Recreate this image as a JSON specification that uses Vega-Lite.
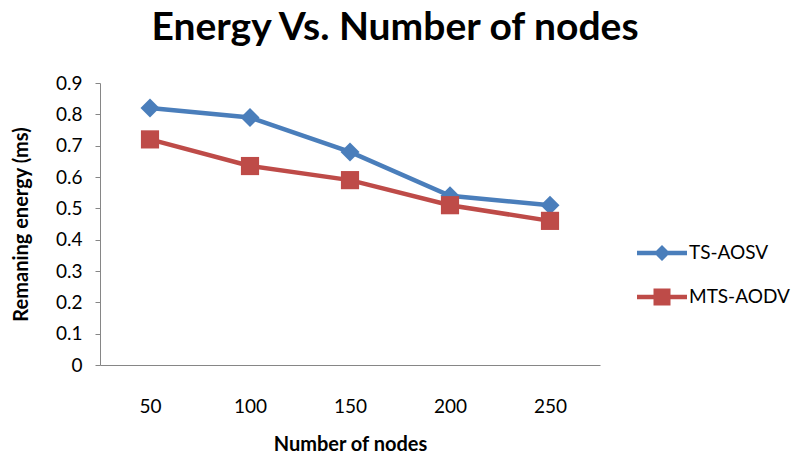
{
  "$schema": "https://vega.github.io/schema/vega-lite/v6.json",
  "autosize": "none",
  "width": 500,
  "height": 282,
  "padding": {"left": 100, "top": 83, "right": 198, "bottom": 91},
  "background": "white",
  "title": {
    "text": "Energy Vs. Number of nodes",
    "font": "Lato",
    "fontSize": 39,
    "fontWeight": "bold",
    "color": "#000000",
    "anchor": "middle",
    "dx": 45,
    "offset": 26
  },
  "data": {
    "values": [
      {"nodes": "50", "series": "TS-AOSV", "energy": 0.82},
      {"nodes": "100", "series": "TS-AOSV", "energy": 0.79},
      {"nodes": "150", "series": "TS-AOSV", "energy": 0.68},
      {"nodes": "200", "series": "TS-AOSV", "energy": 0.54},
      {"nodes": "250", "series": "TS-AOSV", "energy": 0.51},
      {"nodes": "50", "series": "MTS-AODV", "energy": 0.72},
      {"nodes": "100", "series": "MTS-AODV", "energy": 0.635},
      {"nodes": "150", "series": "MTS-AODV", "energy": 0.59},
      {"nodes": "200", "series": "MTS-AODV", "energy": 0.51},
      {"nodes": "250", "series": "MTS-AODV", "energy": 0.46}
    ]
  },
  "config": {
    "view": {"stroke": null},
    "axis": {
      "labelFont": "Lato",
      "titleFont": "Lato",
      "labelColor": "#000000",
      "titleColor": "#000000",
      "domainColor": "#868686",
      "tickColor": "#868686",
      "grid": false
    }
  },
  "encoding": {
    "x": {
      "field": "nodes",
      "type": "ordinal",
      "sort": ["50", "100", "150", "200", "250"],
      "scale": {"type": "point", "padding": 0.5},
      "axis": {
        "title": "Number of nodes",
        "labelAngle": 0,
        "labelFontSize": 19,
        "labelPadding": 32,
        "ticks": false,
        "titleFontSize": 20,
        "titleFontWeight": "bold",
        "titlePadding": 18
      }
    },
    "y": {
      "field": "energy",
      "type": "quantitative",
      "scale": {"domain": [0, 0.9]},
      "axis": {
        "title": "Remaning energy (ms)",
        "values": [0, 0.1, 0.2, 0.3, 0.4, 0.5, 0.6, 0.7, 0.8, 0.9],
        "format": ".1~f",
        "labelFontSize": 19,
        "labelPadding": 13,
        "tickSize": 5,
        "titleFontSize": 20,
        "titleFontWeight": "bold",
        "titlePadding": 24
      }
    },
    "color": {
      "field": "series",
      "type": "nominal",
      "scale": {"domain": ["TS-AOSV", "MTS-AODV"], "range": ["#4A7EBB", "#BE4B48"]},
      "legend": null
    }
  },
  "layer": [
    {
      "mark": {"type": "line", "strokeWidth": 4.5},
      "encoding": {
        "color": {
          "field": "series",
          "type": "nominal",
          "scale": {"domain": ["TS-AOSV", "MTS-AODV"], "range": ["#4A7EBB", "#BE4B48"]},
          "legend": {
            "title": null,
            "orient": "none",
            "legendX": 552,
            "legendY": 160,
            "padding": 0,
            "labelFont": "Lato",
            "labelFontSize": 19,
            "labelColor": "#000000",
            "labelOffset": 17,
            "rowPadding": 24,
            "symbolSize": 400,
            "symbolType": "M-2.5,-0.22L2.5,-0.22L2.5,0.22L-2.5,0.22Z",
            "encode": {
              "symbols": {
                "update": {
                  "shape": {"signal": "datum.value === 'TS-AOSV' ? 'M-2.5,-0.22L2.5,-0.22L2.5,0.22L-2.5,0.22Z M0,-0.8L0.8,0L0,0.8L-0.8,0Z' : 'M-2.5,-0.22L2.5,-0.22L2.5,0.22L-2.5,0.22Z M-0.85,-0.85L0.85,-0.85L0.85,0.85L-0.85,0.85Z'"},
                  "fill": {"signal": "datum.value === 'TS-AOSV' ? '#4A7EBB' : '#BE4B48'"},
                  "strokeWidth": {"value": 0},
                  "opacity": {"value": 1}
                }
              }
            }
          }
        }
      }
    },
    {
      "transform": [{"filter": "datum.series === 'TS-AOSV'"}],
      "mark": {"type": "point", "filled": true, "opacity": 1, "size": 360, "shape": "diamond"},
      "encoding": {}
    },
    {
      "transform": [{"filter": "datum.series === 'MTS-AODV'"}],
      "mark": {"type": "point", "filled": true, "opacity": 1, "size": 330, "shape": "square"},
      "encoding": {}
    }
  ]
}
